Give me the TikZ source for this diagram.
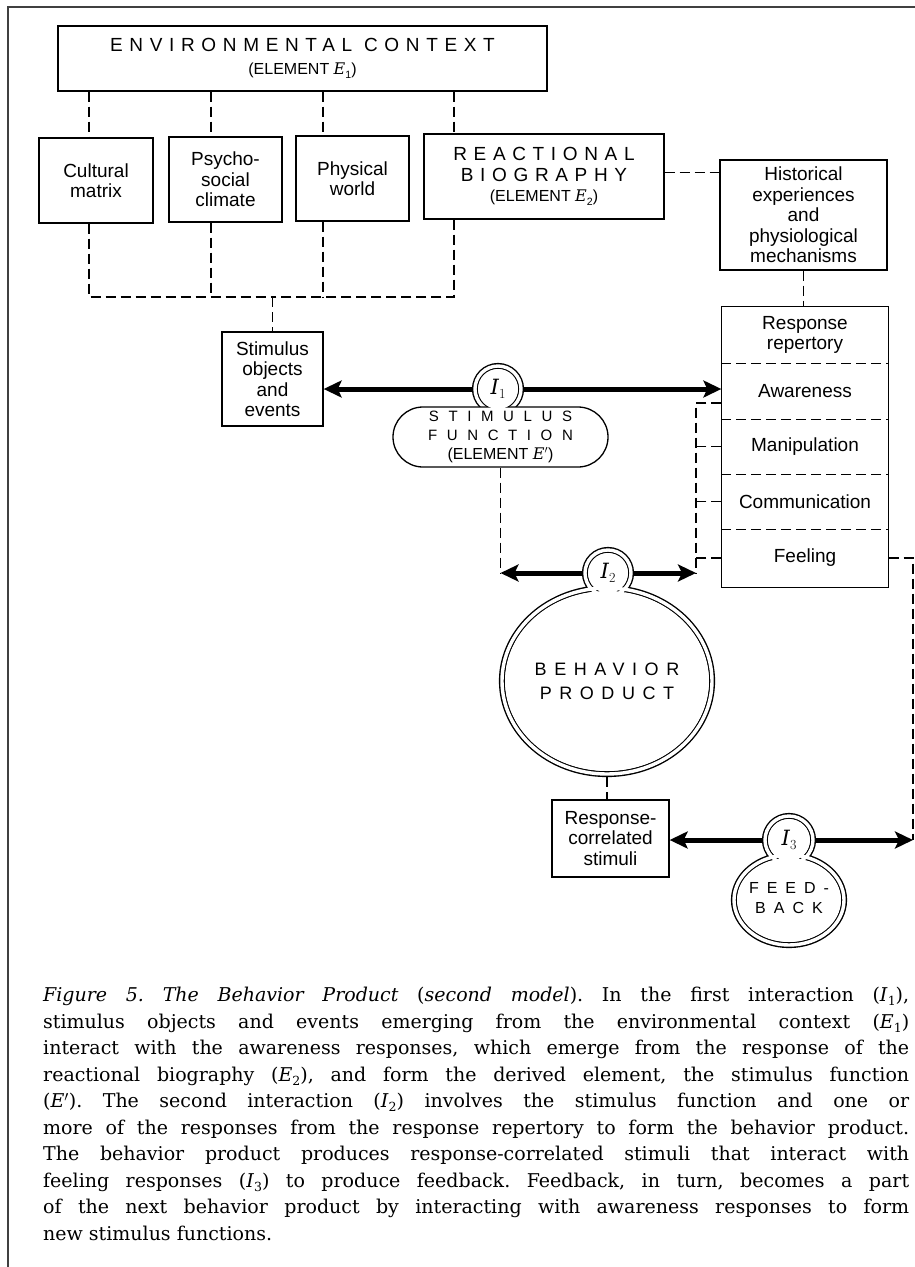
\documentclass[tikz,border=0pt]{standalone}
\usepackage{graphicx}
\usepackage{fontspec}
\setsansfont{Liberation Sans}
\newfontfamily\capfont{DejaVu Serif}
\usetikzlibrary{arrows.meta}

\newcommand\spaced[2]{{\addfontfeature{LetterSpace=#1}#2}}
\newcommand\elem[1]{{\fontsize{16}{17}\selectfont #1}}
\newcommand\sym[2]{{\capfont\itshape #1\/}\raisebox{-0.22em}{\scalebox{0.66}{#2}}}

\begin{document}
\begin{tikzpicture}[x=1pt, y=-1pt, >={Stealth[length=18pt,width=17pt,inset=4pt]},
    box/.style={draw, line width=1.3pt, align=center, inner sep=0pt, font=\sffamily\fontsize{19}{20.5}\selectfont},
    cell/.style={box, draw=none, minimum width=166pt},
    link/.style={line width=1.3pt, dash pattern=on 10pt off 5pt},
    flow/.style={line width=5pt, <->},
    ring/.style={line width=1.4pt, double=white, double distance=3.4pt},
    ilabel/.style={inner sep=0pt, font=\fontsize{21}{24}\selectfont}]
    \useasboundingbox (0,0) rectangle (915,1267);
    \draw[line width=1.2pt, black!75] (8,1267) -- (8,7) -- (915,7);

    % --- 1. Environmental context and its parts ---
    \node[box, minimum width=489pt, minimum height=65pt, font=\sffamily\fontsize{19}{20.5}\selectfont] (env) at (302.5,58.5)
        {\spaced{35}{ENVIRONMENTAL CONTEXT}\\[2.5pt]\elem{(ELEMENT \sym{E}{1})}};
    \node[box, minimum width=114pt, minimum height=85pt] (cult) at (96,180.5) {Cultural\\matrix};
    \node[box, minimum width=113pt, minimum height=85pt] (psy) at (225.5,179.5) {Psycho-\\social\\climate};
    \node[box, minimum width=113pt, minimum height=85pt] (phys) at (352.5,178.5) {Physical\\world};
    \node[box, minimum width=240pt, minimum height=85pt, font=\sffamily\fontsize{19}{20.5}\selectfont] (rea) at (544,176.5)
        {\spaced{35}{REACTIONAL}\\\spaced{35}{BIOGRAPHY}\\\elem{(ELEMENT \sym{E}{2})}};
    \node[box, minimum width=167pt, minimum height=110pt] (hist) at (803.5,215)
        {Historical\\experiences\\and\\physiological\\mechanisms};

    \foreach \b/\dx in {cult/-7, psy/-14.5, phys/-29.5, rea/-90}
        \draw[link] ([xshift=\dx pt]\b.north |- env.south) -- ([xshift=\dx pt]\b.north);
    \draw[link] ([yshift=4pt]rea.east) -- ([yshift=4pt]rea.east -| hist.west);

    % --- 2. Stimulus objects ---
    \node[box, minimum width=101pt, minimum height=94pt] (stim) at (272.5,379) {Stimulus\\objects\\and\\events};
    \coordinate (bus) at (272.5,297);
    \draw[link] ([xshift=-7pt]cult.south) |- (bus);
    \draw[link] ([xshift=-90pt]rea.south) |- (bus);
    \draw[link] ([xshift=-14.5pt]psy.south) -- ([xshift=-14.5pt]psy.south |- bus);
    \draw[link] ([xshift=-29.5pt]phys.south) -- ([xshift=-29.5pt]phys.south |- bus);
    \draw[link] (bus) -- (stim.north);

    % --- 3. Response repertory ---
    \node[cell, minimum height=56pt] (rep) at (805,335) {Response\\repertory};
    \node[cell, minimum height=56pt] (aware) at (805,391) {Awareness};
    \node[cell, minimum height=55pt] (manip) at (805,446.5) {Manipulation};
    \node[cell, minimum height=55pt] (comm) at (805,501.5) {Communication};
    \node[cell, minimum height=58pt] (feel) at (805,558) {Feeling};
    \draw[line width=1.3pt] (rep.north west) rectangle (feel.south east);
    \foreach \c in {rep,aware,manip,comm}
        \draw[line width=1.2pt, dash pattern=on 10pt off 5pt] (\c.south west) -- (\c.south east);
    \draw[link] (hist.south) -- (hist.south |- rep.north);

    % --- 4. Interactions I1, I2, I3 ---
    \coordinate (i1) at (498,389);
    \coordinate (i2) at (608,573);
    \coordinate (i3) at (789,840);
    \coordinate (pc) at (607,681);
    \coordinate (fc) at (789,900);
    \coordinate (i2l) at (500.5,573);
    \coordinate (i2r) at (696,573);
    \coordinate (i3r) at (913,840);
    \node[box, minimum width=117pt, minimum height=77pt] (rcs) at (610.5,838.5) {Response-\\correlated\\stimuli};

    \draw[flow] (i1 -| stim.east) -- (i1 -| rep.west);
    \draw[flow] (i2l) -- (i2r);
    \draw[flow] (i3 -| rcs.east) -- (i3r);

    % stimulus function
    \draw[ring, fill=white] (i1) circle[radius=23pt];
    \node[draw, line width=1.3pt, fill=white, rounded corners=30pt, minimum width=215pt, minimum height=60pt,
        inner sep=0pt, align=center, font=\sffamily\fontsize{15}{19}\selectfont] (sfun) at (500.5,437)
        {\spaced{64}{STIMULUS}\\\spaced{64}{FUNCTION}\\\elem{(ELEMENT {\capfont\itshape E}$'$)}};
    \fill[white] (i1) circle[radius=20pt];
    \node[ilabel] (l1) at (i1) {\sym{I}{1}};

    % behavior product
    \draw[ring, fill=white] (i2) circle[radius=23pt] (pc) ellipse[x radius=105pt, y radius=93pt];
    \fill[white] (i2) circle[radius=20pt] (pc) ellipse[x radius=102pt, y radius=90pt];
    \node[ilabel] (l2) at (i2) {\sym{I}{2}};
    \node[inner sep=0pt, minimum width=216pt, minimum height=192pt, align=center,
        font=\sffamily\fontsize{18}{24}\selectfont] (prod) at (pc) {\spaced{42}{BEHAVIOR}\\\spaced{42}{PRODUCT}};

    % feedback
    \draw[ring, fill=white] (i3) circle[radius=24pt] (fc) ellipse[x radius=55pt, y radius=45pt];
    \fill[white] (i3) circle[radius=21pt] (fc) ellipse[x radius=52pt, y radius=42pt];
    \node[ilabel] (l3) at (i3) {\sym{I}{3}};
    \node[inner sep=0pt, align=center, font=\sffamily\fontsize{16}{20}\selectfont] (fback) at (789,898)
        {\spaced{50}{FEED-}\\\spaced{50}{BACK}};

    % dashed feeders
    \draw[link] (sfun.south) -- (i2l);
    \draw[link] ([yshift=-12pt]aware.west) -| (i2r);
    \foreach \c in {manip,comm,feel}
        \draw[link] (\c.west) -- (\c.west -| i2r);
    \draw[link] (feel.east) -| (i3r);
    \draw[link] (prod.south) -- (prod.south |- rcs.north);

    % --- 5. Caption ---
    \node[anchor=north west, inner sep=0pt, text width=866pt, align=justify,
        font=\capfont\fontsize{19}{26.5}\selectfont] (cap) at (43,987)
        {\tolerance=10000 \hbadness=10000 \hyphenpenalty=10000 \frenchspacing\noindent
        \textit{Figure 5. The Behavior Product} (\textit{second model}). In the first interaction (\sym{I}{1}),\linebreak
        stimulus objects and events emerging from the environmental context (\sym{E}{1})\linebreak
        interact with the awareness responses, which emerge from the response of the\linebreak
        reactional biography (\sym{E}{2}), and form the derived element, the stimulus function\linebreak
        (\textit{E}$'$). The second interaction (\sym{I}{2}) involves the stimulus function and one or\linebreak
        more of the responses from the response repertory to form the behavior product.\linebreak
        The behavior product produces response-correlated stimuli that interact with\linebreak
        feeling responses (\sym{I}{3}) to produce feedback. Feedback, in turn, becomes a part\linebreak
        of the next behavior product by interacting with awareness responses to form\linebreak
        new stimulus functions.};
\end{tikzpicture}
\end{document}
